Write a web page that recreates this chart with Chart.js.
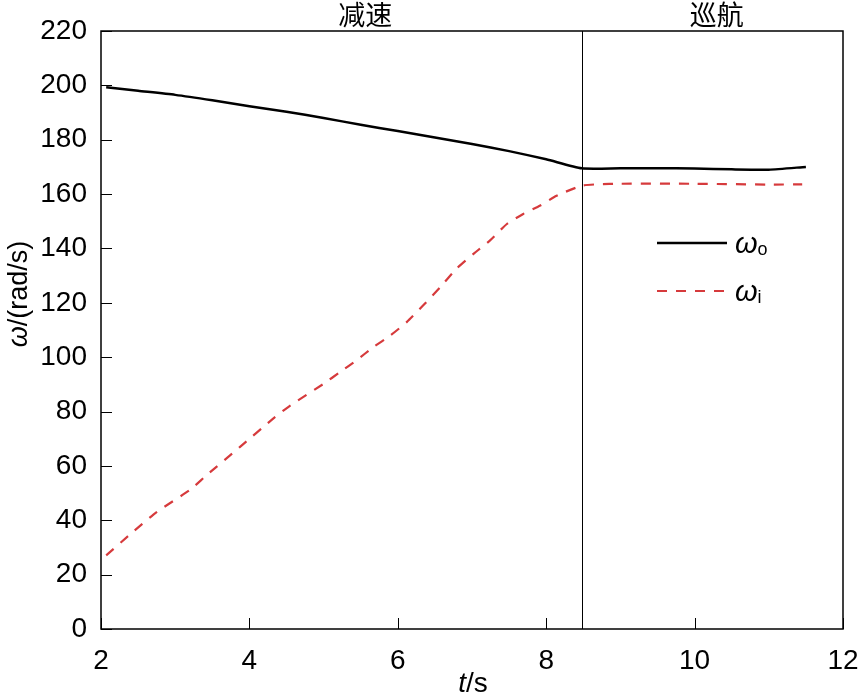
<!DOCTYPE html>
<html>
<head>
<meta charset="utf-8">
<script src="https://cdn.jsdelivr.net/npm/chart.js@4/dist/chart.umd.min.js"></script>
<style>
  html, body { margin: 0; padding: 0; background: #fff; }
  #wrap { width: 860px; height: 694px; }
</style>
</head>
<body>
<div id="wrap"><canvas id="speedChart" width="860" height="694"></canvas></div>
<script>
// time (s) and angular speed (rad/s)
const tOut = [2.07, 2.5, 3, 3.5, 4, 4.5, 5, 5.5, 6, 6.5, 7, 7.5, 8, 8.48, 9, 9.5, 10, 10.5, 11, 11.5];
const wOut = [199.3, 198, 196.5, 194.5, 192.3, 190.3, 188, 185.5, 183.2, 180.8, 178.4, 175.8, 172.8, 169.5, 169.5, 169.5, 169.4, 169.1, 169.0, 170.0];

const tIn = [2.07, 2.4, 2.75, 3.2, 3.42, 3.87, 4.32, 4.55, 5.0, 5.22, 5.45, 5.67, 5.9, 6.12, 6.34, 6.57, 6.79, 7.02, 7.24, 7.47, 7.69, 7.92, 8.14, 8.48, 8.7, 9, 10, 11, 11.45];
const wIn = [27.1, 35, 43, 51.2, 56.5, 66.9, 77.4, 82.2, 90.2, 94.5, 99, 103.7, 108, 112.9, 119, 125.7, 132.5, 138, 142.9, 149, 152.7, 155.8, 159.4, 163.1, 163.6, 163.8, 163.8, 163.5, 163.6];

const xTicks = [2, 4, 6, 8, 10, 12];
const yTicks = [0, 20, 40, 60, 80, 100, 120, 140, 160, 180, 200, 220];
const phaseSplit = 8.48;
const phases = [{ label: '减速', t: 5.56 }, { label: '巡航', t: 10.3 }];

const RED = '#d63a3c';
const FONT = '"Liberation Sans"';

function pts(xs, ys) {
  return xs.map((x, i) => ({ x: x, y: ys[i] }));
}

// frame, inward ticks, divider, phase labels, legend, axis titles
const decorations = {
  id: 'decorations',
  afterDraw(chart) {
    const { ctx, chartArea: a, scales: { x, y } } = chart;
    ctx.save();
    ctx.strokeStyle = '#000';
    ctx.lineWidth = 1.5;
    ctx.strokeRect(a.left, a.top, a.right - a.left, a.bottom - a.top);

    ctx.lineWidth = 1;
    ctx.beginPath();
    yTicks.forEach(v => {
      const py = Math.round(y.getPixelForValue(v)) + 0.5;
      ctx.moveTo(a.left, py);
      ctx.lineTo(a.left + 11, py);
    });
    xTicks.forEach(v => {
      const px = Math.round(x.getPixelForValue(v)) + 0.5;
      ctx.moveTo(px, a.bottom);
      ctx.lineTo(px, a.bottom - 11);
    });
    const sx = Math.round(x.getPixelForValue(phaseSplit)) + 0.5;
    ctx.moveTo(sx, a.top);
    ctx.lineTo(sx, a.bottom);
    ctx.stroke();

    ctx.fillStyle = '#000';
    ctx.font = '27px "Noto Sans CJK SC"';
    ctx.textAlign = 'center';
    ctx.textBaseline = 'middle';
    phases.forEach(p => ctx.fillText(p.label, x.getPixelForValue(p.t), 15));

    // legend
    const lx0 = 657, lx1 = 727;
    ctx.lineWidth = 2.5;
    ctx.beginPath();
    ctx.moveTo(lx0, 243); ctx.lineTo(lx1, 243);
    ctx.stroke();
    ctx.strokeStyle = RED;
    ctx.lineWidth = 2;
    ctx.setLineDash([10, 9]);
    ctx.beginPath();
    ctx.moveTo(lx0, 291); ctx.lineTo(lx1, 291);
    ctx.stroke();
    ctx.setLineDash([]);

    ctx.textAlign = 'left';
    ctx.textBaseline = 'alphabetic';
    [['o', 253], ['i', 301]].forEach(([sub, by]) => {
      ctx.font = 'italic 29px ' + FONT;
      ctx.fillText('ω', 735, by);
      const w = ctx.measureText('ω').width;
      ctx.font = '18px ' + FONT;
      ctx.fillText(sub, 735 + w, by + 2);
    });

    // x title
    ctx.font = 'italic 28px ' + FONT;
    const tw = ctx.measureText('t').width;
    ctx.font = '28px ' + FONT;
    const sw = ctx.measureText('/s').width;
    let px = 473 - (tw + sw) / 2;
    ctx.font = 'italic 28px ' + FONT;
    ctx.fillText('t', px, 692);
    ctx.font = '28px ' + FONT;
    ctx.fillText('/s', px + tw, 692);

    // y title
    ctx.translate(27, 294);
    ctx.rotate(-Math.PI / 2);
    ctx.font = 'italic 27px ' + FONT;
    const ow = ctx.measureText('ω').width;
    ctx.font = '27px ' + FONT;
    const rw = ctx.measureText('/(rad/s)').width;
    px = -(ow + rw) / 2;
    ctx.font = 'italic 27px ' + FONT;
    ctx.fillText('ω', px, 0);
    ctx.font = '27px ' + FONT;
    ctx.fillText('/(rad/s)', px + ow, 0);
    ctx.restore();
  }
};

new Chart(document.getElementById('speedChart').getContext('2d'), {
  type: 'line',
  data: {
    datasets: [{
      label: 'ωo',
      data: pts(tOut, wOut),
      borderColor: '#000',
      borderWidth: 2.5,
      pointRadius: 0,
      tension: 0.2,
      fill: false
    }, {
      label: 'ωi',
      data: pts(tIn, wIn),
      borderColor: RED,
      borderWidth: 2.2,
      borderDash: [10, 9],
      pointRadius: 0,
      tension: 0.2,
      fill: false
    }]
  },
  options: {
    responsive: false,
    animation: false,
    events: [],
    layout: { padding: { top: 31, right: 17, left: 0, bottom: 0 } },
    plugins: { legend: { display: false }, tooltip: { enabled: false } },
    scales: {
      x: {
        type: 'linear',
        min: 2, max: 12,
        grid: { display: false },
        border: { display: false },
        afterBuildTicks: s => { s.ticks = xTicks.map(v => ({ value: v })); },
        afterFit: s => { s.height = 65; s.paddingLeft = 0; s.paddingRight = 0; },
        ticks: { color: '#000', padding: 7, maxRotation: 0, font: { family: 'Liberation Sans', size: 28 } }
      },
      y: {
        min: 0, max: 220,
        grid: { display: false },
        border: { display: false },
        afterBuildTicks: s => { s.ticks = yTicks.map(v => ({ value: v })); },
        afterFit: s => { s.width = 101; s.paddingTop = 0; s.paddingBottom = 0; },
        ticks: { color: '#000', padding: 6, font: { family: 'Liberation Sans', size: 28 } }
      }
    }
  },
  plugins: [decorations]
});
</script>
</body>
</html>
